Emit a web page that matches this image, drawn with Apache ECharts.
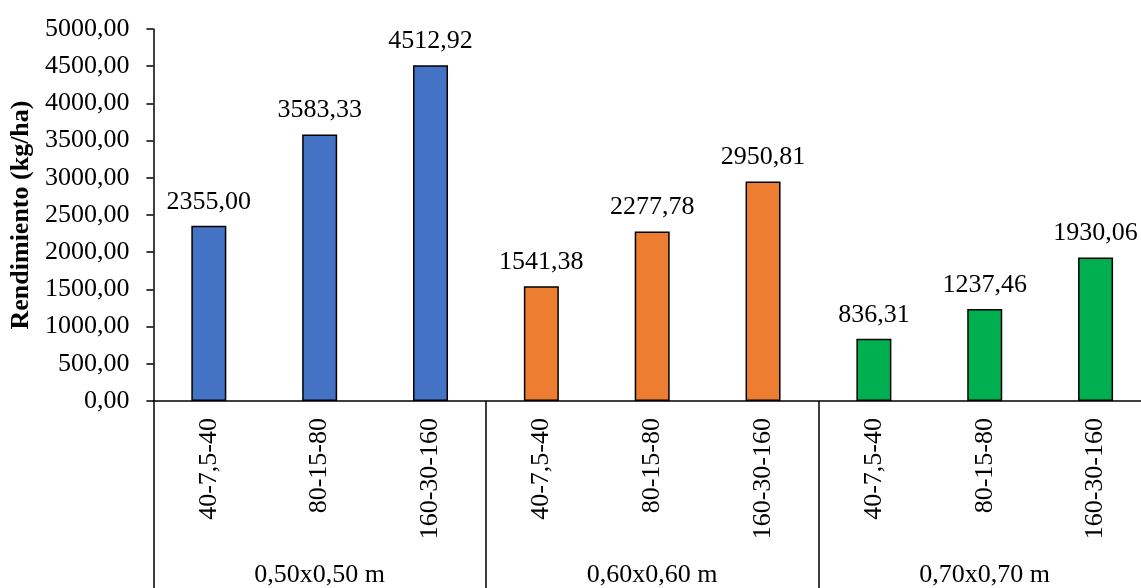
<!DOCTYPE html>
<html>
<head>
<meta charset="utf-8">
<script src="https://cdn.jsdelivr.net/npm/echarts@6/dist/echarts.min.js"></script>
<style>
  html, body { margin: 0; padding: 0; background: #fff; overflow: hidden; }
  #chart { width: 1170px; height: 588px; }
</style>
</head>
<body>
<div id="chart"></div>
<script>
// Plant spacing groups and fertilizer doses (N-P-K) within each group
const spacingGroups = ['0,50x0,50 m', '0,60x0,60 m', '0,70x0,70 m'];
const doseLabels = ['40-7,5-40', '80-15-80', '160-30-160'];
// Yield (kg/ha) per dose, one array per spacing group
const yield050 = [2355.00, 3583.33, 4512.92];
const yield060 = [1541.38, 2277.78, 2950.81];
const yield070 = [836.31, 1237.46, 1930.06];
const groupColors = ['#4472C4', '#ED7D31', '#00B050'];
const yTicks = { min: 0, max: 5000, interval: 500 };

const groupValues = [yield050, yield060, yield070];
const categories = [];
const barData = [];
groupValues.forEach((vals, g) => {
  vals.forEach((v, i) => {
    categories.push(doseLabels[i]);
    barData.push({ value: v, itemStyle: { color: groupColors[g] } });
  });
});

const fmt = v => v.toFixed(2).replace('.', ',');
const FONT = '"Liberation Serif", "Times New Roman", serif';

const chart = echarts.init(document.getElementById('chart'), null, { renderer: 'canvas' });
chart.setOption({
  animation: false,
  backgroundColor: '#ffffff',
  textStyle: { fontFamily: FONT },
  grid: { left: 152, top: 29, width: 999, bottom: 187, containLabel: false },
  xAxis: [
    {
      type: 'category',
      data: categories,
      position: 'bottom',
      axisLine: { show: true, lineStyle: { color: '#000', width: 1.5 } },
      axisTick: { show: false },
      axisLabel: {
        rotate: 90, margin: 17, interval: 0,
        color: '#000', fontFamily: FONT, fontSize: 26
      }
    },
    {
      type: 'category',
      data: spacingGroups,
      position: 'bottom',
      offset: 0,
      axisLine: { show: false },
      axisTick: { show: true, length: 190, alignWithLabel: false, lineStyle: { color: '#000', width: 1.5 } },
      axisLabel: {
        margin: 161, interval: 0,
        color: '#000', fontFamily: FONT, fontSize: 26
      }
    }
  ],
  yAxis: {
    type: 'value',
    min: yTicks.min, max: yTicks.max, interval: yTicks.interval,
    name: 'Rendimiento (kg/ha)',
    nameLocation: 'middle',
    nameGap: 116,
    nameTextStyle: { color: '#000', fontFamily: FONT, fontSize: 26, fontWeight: 'bold' },
    axisLine: { show: true, lineStyle: { color: '#000', width: 1.5 } },
    axisTick: { show: true, length: 7, lineStyle: { color: '#000', width: 1.5 } },
    splitLine: { show: false },
    axisLabel: {
      margin: 24, color: '#000', fontFamily: FONT, fontSize: 26,
      formatter: v => fmt(v)
    }
  },
  series: [{
    type: 'bar',
    xAxisIndex: 0,
    data: barData,
    barWidth: 35,
    itemStyle: { borderColor: '#000', borderWidth: 1.5 },
    label: {
      show: true, position: 'top', distance: 11,
      color: '#000', fontFamily: FONT, fontSize: 26,
      formatter: p => fmt(p.value)
    }
  }]
});
</script>
</body>
</html>
